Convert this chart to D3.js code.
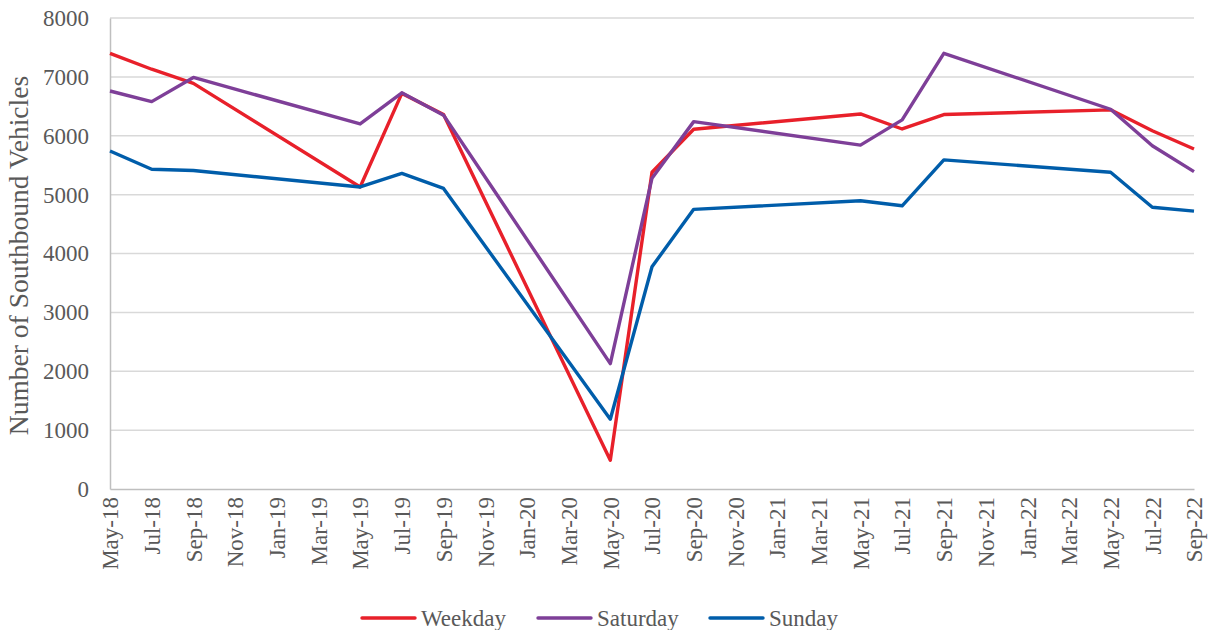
<!DOCTYPE html>
<html>
<head>
<meta charset="utf-8">
<script src="https://cdn.jsdelivr.net/npm/d3@7"></script>
<style>
  html, body { margin: 0; padding: 0; background: #fff; }
  svg { display: block; }
  text { font-family: "Liberation Serif", "Times New Roman", serif; fill: #595959; }
</style>
</head>
<body>
<svg id="chart" width="1211" height="630"></svg>
<script>
// ---- data ----
const sampleMonths = ["May-18","Jul-18","Sep-18","May-19","Jul-19","Sep-19","May-20","Jul-20","Sep-20","May-21","Jul-21","Sep-21","May-22","Jul-22","Sep-22"];
const weekday  = [7400, 7130, 6890, 5130, 6720, 6360,  490, 5380, 6110, 6370, 6115, 6360, 6440, 6085, 5775];
const saturday = [6760, 6580, 6990, 6200, 6730, 6350, 2130, 5280, 6240, 5840, 6270, 7400, 6450, 5830, 5390];
const sunday   = [5740, 5430, 5410, 5130, 5360, 5105, 1185, 3775, 4750, 4895, 4810, 5590, 5380, 4785, 4720];
const tickLabels = ["May-18","Jul-18","Sep-18","Nov-18","Jan-19","Mar-19","May-19","Jul-19","Sep-19","Nov-19","Jan-20","Mar-20","May-20","Jul-20","Sep-20","Nov-20","Jan-21","Mar-21","May-21","Jul-21","Sep-21","Nov-21","Jan-22","Mar-22","May-22","Jul-22","Sep-22"];
const yTicks = [0,1000,2000,3000,4000,5000,6000,7000,8000];
const seriesNames = ["Weekday","Saturday","Sunday"];
const seriesColors = ["#E8202A","#7E3F98","#005DAA"];
const yTitle = "Number of Southbound Vehicles";

// ---- layout ----
const svg = d3.select("#chart");
const L = 110, R = 1194, T = 18, B = 489;

const fmt = d3.timeFormat("%b-%y");
const parse = d3.timeParse("%b-%y");
const allMonths = d3.timeMonths(parse("May-18"), d3.timeMonth.offset(parse("Sep-22"), 1)).map(fmt);

const x = d3.scalePoint().domain(allMonths).range([L, R]);
const y = d3.scaleLinear().domain([0, 8000]).range([B, T]);

// gridlines
svg.append("g")
  .selectAll("line")
  .data(yTicks.filter(d => d > 0))
  .join("line")
  .attr("x1", L).attr("x2", R)
  .attr("y1", d => y(d)).attr("y2", d => y(d))
  .attr("stroke", "#d9d9d9").attr("stroke-width", 1.5);

// y axis
const yAxis = svg.append("g")
  .attr("transform", `translate(${L},0)`)
  .call(d3.axisLeft(y).tickValues(yTicks).tickSize(0).tickPadding(21).tickFormat(d3.format("d")));
yAxis.select(".domain").attr("stroke", "#bfbfbf").attr("stroke-width", 1.5);
yAxis.selectAll("text").style("font-size", "23px").style("font-family", "'Liberation Serif', 'Times New Roman', serif").attr("fill", "#595959");

// x axis
const xAxis = svg.append("g")
  .attr("transform", `translate(0,${B})`)
  .call(d3.axisBottom(x).tickValues(tickLabels).tickSize(0).tickPadding(0));
xAxis.select(".domain").attr("stroke", "#bfbfbf").attr("stroke-width", 1.5);
xAxis.selectAll("text")
  .style("font-size", "23px").style("font-family", "'Liberation Serif', 'Times New Roman', serif").attr("fill", "#595959")
  .attr("transform", "rotate(-90)")
  .attr("text-anchor", "end")
  .attr("x", -8)
  .attr("y", 0)
  .attr("dy", "0.34em");

// y title
svg.append("text")
  .attr("transform", `translate(28,${(78+433)/2}) rotate(-90)`)
  .attr("text-anchor", "middle")
  .style("font-size", "27.5px")
  .text(yTitle);

// lines
const seriesData = [weekday, saturday, sunday];
const line = d3.line().x(d => x(d.m)).y(d => y(d.v));
seriesData.forEach((vals, i) => {
  const pts = sampleMonths.map((m, j) => ({ m, v: vals[j] }));
  svg.append("path")
    .datum(pts)
    .attr("fill", "none")
    .attr("stroke", seriesColors[i])
    .attr("stroke-width", 3.4)
    .attr("stroke-linejoin", "round")
    .attr("d", line);
});

// legend
const legendX = [362, 538, 710];
const lg = svg.append("g");
seriesNames.forEach((n, i) => {
  const g = lg.append("g").attr("transform", `translate(${legendX[i]},618)`);
  g.append("line").attr("x1", 0).attr("x2", 53).attr("y1", 0).attr("y2", 0)
    .attr("stroke", seriesColors[i]).attr("stroke-width", 3.4).attr("stroke-linecap", "round");
  g.append("text").attr("x", 59).attr("y", 0).attr("dy", "0.34em")
    .style("font-size", "23px").text(n);
});
</script>
</body>
</html>
